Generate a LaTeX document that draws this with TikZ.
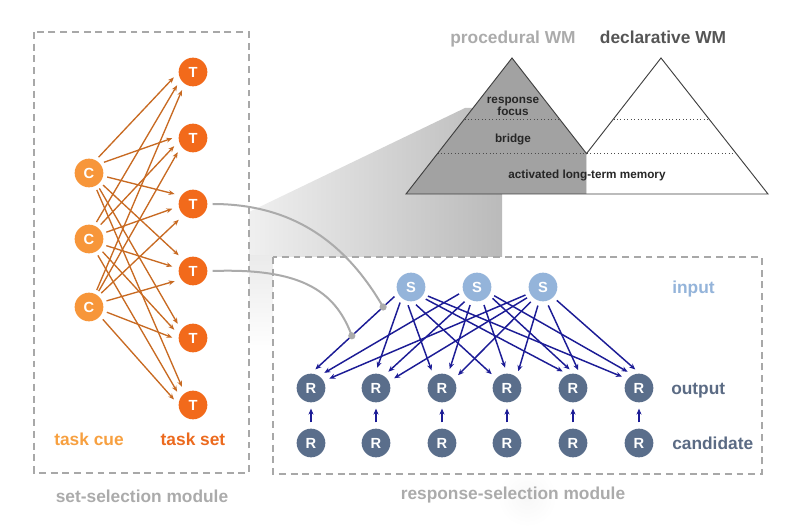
\documentclass[tikz,border=0pt]{standalone}
\usepackage{fontspec}
\setmainfont{Liberation Sans}
\usetikzlibrary{arrows.meta,calc}
\definecolor{cueC}{HTML}{F7963A}
\definecolor{setT}{HTML}{F26A1B}
\definecolor{ctarrow}{HTML}{C86A22}
\definecolor{sfill}{HTML}{94B4DA}
\definecolor{rfill}{HTML}{5A6E8B}
\definecolor{srarrow}{HTML}{1C1C96}
\definecolor{boxgray}{HTML}{A8A8A8}
\definecolor{pyrgray}{HTML}{A2A2A2}
\definecolor{labgray}{HTML}{ABABAB}
\definecolor{darklab}{HTML}{555555}
\definecolor{cuetext}{HTML}{F7A040}
\definecolor{settext}{HTML}{EC6A1E}
\definecolor{rtext}{HTML}{5B6B84}
\begin{document}
\begin{tikzpicture}[x=0.75pt,y=-0.75pt,
  cnode/.style={circle, fill=cueC, minimum size=21.5pt, inner sep=0pt, text=white, font=\fontsize{11}{11}\selectfont\bfseries},
  tnode/.style={cnode, fill=setT},
  snode/.style={cnode, fill=sfill},
  rnode/.style={cnode, fill=rfill},
  modbox/.style={draw=boxgray, line width=1.6pt, dash pattern=on 5.2pt off 3.6pt, fill=white},
  ctarr/.style={draw=ctarrow, line width=1pt, -{Stealth[length=4.5pt,width=3.6pt]}, shorten <=3pt, shorten >=5pt},
  srarr/.style={draw=srarrow, line width=1.1pt, -{Stealth[length=4.5pt,width=3.8pt]}, shorten <=3.5pt, shorten >=4.5pt},
  biglab/.style={font=\fontsize{13}{13}\selectfont\bfseries, anchor=base, inner sep=0pt},
  pyrtxt/.style={font=\fontsize{8.8}{9}\selectfont\bfseries, anchor=base, text=black!85, inner sep=0pt},
  pyrline/.style={draw=black!75, line width=0.7pt},
  dotline/.style={draw=black!70, line width=0.6pt, dotted},
  link/.style={draw=black!33, line width=1.5pt},
]
\useasboundingbox (0,0) rectangle (800,527);

% shadow / projection
\shade[left color=black!6, right color=black!27] (249,212) -- (465,108) -- (502,108) -- (502,257) -- (249,257) -- cycle;
\shade[top color=black!8, bottom color=white] (249,256) rectangle (273,352);
\shade[inner color=black!3, outer color=white] (527,497) ellipse (30 and 30);

% module boxes
\draw[modbox] (34,32) rectangle (249,473);
\draw[modbox] (273,257) rectangle (762,474);

% pyramids
\fill[pyrgray] (406,194) -- (512,58) -- (586.5,153.6) -- (586.5,194) -- cycle;
\fill[white] (586.5,153.6) -- (661,58) -- (768,194) -- (586.5,194) -- cycle;
\draw[dotline] (464.5,119) -- (559.5,119);
\draw[dotline] (613.5,119) -- (708.5,119);
\draw[dotline] (437.5,153.6) -- (735.5,153.6);
\draw[pyrline] (406,194) -- (512,58) -- (586.5,153.6) -- (661,58) -- (768,194) -- cycle;
\node[pyrtxt] (resp) at (513,103.5) {response};
\node[pyrtxt] (focus) at (513,115.5) {focus};
\node[pyrtxt] (bridge) at (513,143) {bridge};
\node[pyrtxt] (altm) at (587,178.5) {activated long-term memory};
\node[biglab, text=labgray] (procWM) at (513,44) {procedural WM};
\node[biglab, text=darklab] (declWM) at (663,44) {declarative WM};

% set-selection nodes
\node[cnode] (C1) at (89,173) {C};
\node[cnode] (C2) at (89,239) {C};
\node[cnode] (C3) at (89,307) {C};
\foreach \k/\y in {1/72,2/138,3/204,4/271,5/338,6/405}
  \node[tnode] (T\k) at (193,\y) {T};

\foreach \k/\a/\b/\c/\p/\q/\r in {1/182/211/235/62/68/65, 2/172/193/215/40/52/58, 3/145/190/230/348/22/50, 4/130/170/215/320/338/20, 5/145/167/188/305/318/345, 6/125/149/178/295/298/320}{
  \draw[ctarr] (C1.\p) -- (T\k.\a);
  \draw[ctarr] (C2.\q) -- (T\k.\b);
  \draw[ctarr] (C3.\r) -- (T\k.\c);
}

% response-selection nodes
\foreach \i/\x in {1/411,2/477,3/543}
  \node[snode] (S\i) at (\x,287) {S};
\foreach \j/\x in {1/311,2/376,3/442,4/507,5/573,6/639}{
  \node[rnode] (R\j) at (\x,388) {R};
  \node[rnode] (K\j) at (\x,443) {R};
  \draw[srarr, shorten <=4.5pt, shorten >=4.5pt] (K\j) -- (R\j);
}
\foreach \j/\sa/\sb/\sc/\ea/\eb/\ec in {1/206/198/205/90/56/29, 2/230/232/215/93/57/27, 3/252/248/232/125/66/36, 4/276/292/255/138/90/49, 5/317/326/283/110/86/58, 6/330/334/315/142/115/87}{
  \draw[srarr] (S1.\sa) -- (R\j.\ea);
  \draw[srarr] (S2.\sb) -- (R\j.\eb);
  \draw[srarr] (S3.\sc) -- (R\j.\ec);
}

% gray links from task set to input
\coordinate (d1) at ($(S1.206)!0.17!(R1.90)$);
\coordinate (d2) at ($(S1.206)!0.53!(R1.90)$);
\draw[link] ($(T3.east)+(5,0)$) .. controls (300,204) and (350,250) .. (d1);
\draw[link] ($(T4.east)+(5,0)$) .. controls (300,268) and (335,290) .. (d2);
\fill[black!33] (d1) circle (3.6);
\fill[black!33] (d2) circle (3.6);

% labels
\node[biglab, text=cuetext] (cue) at (89,445.5) {task cue};
\node[biglab, text=settext] (tset) at (193,445.5) {task set};
\node[biglab, text=labgray] (ssm) at (142,502) {set-selection module};
\node[biglab, text=labgray] (rsm) at (513,499.5) {response-selection module};
\node[biglab, anchor=base west, text=sfill] (inp) at (672,293.5) {input};
\node[biglab, anchor=base west, text=rtext] (outp) at (671,394.5) {output};
\node[biglab, anchor=base west, text=rtext] (cand) at (672,449) {candidate};
\end{tikzpicture}
\end{document}
